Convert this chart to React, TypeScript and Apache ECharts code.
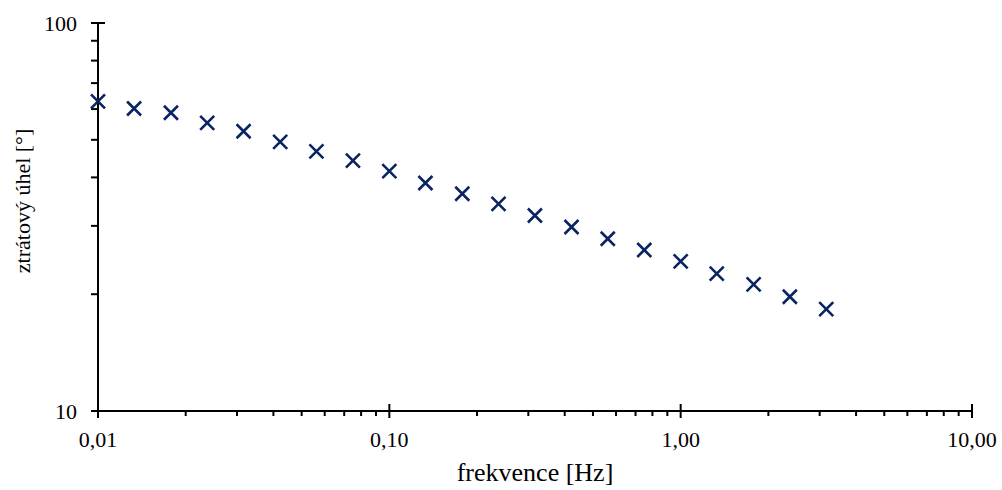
import React, { useEffect, useRef } from "react";
import * as echarts from "echarts";

const frequencies = [
  0.01, 0.0133, 0.0178, 0.0237, 0.0316, 0.0422, 0.0562, 0.075, 0.1, 0.133,
  0.178, 0.237, 0.316, 0.422, 0.562, 0.75, 1.0, 1.33, 1.78, 2.37, 3.16,
];
const lossAngle = [
  62.8, 60.2, 58.7, 55.3, 52.6, 49.4, 46.7, 44.2, 41.5, 38.7, 36.3, 34.2, 31.9,
  29.8, 27.8, 26.0, 24.3, 22.6, 21.2, 19.7, 18.3,
];
const xMajorTicks = [0.01, 0.1, 1, 10];
const xMinorTicks = [
  0.02, 0.03, 0.04, 0.05, 0.06, 0.07, 0.08, 0.09,
  0.2, 0.3, 0.4, 0.5, 0.6, 0.7, 0.8, 0.9,
  2, 3, 4, 5, 6, 7, 8, 9,
];
const yMajorTicks = [10, 100];
const yMinorTicks = [20, 30, 40, 50, 60, 70, 80, 90];

const xTitle = "frekvence [Hz]";
const yTitle = "ztrátový úhel [°]";

export default function App() {
  const ref = useRef<HTMLDivElement>(null);
  useEffect(() => {
    const chart = echarts.init(ref.current!, null, { renderer: "svg" });
    const font = "'Liberation Serif', 'Times New Roman', serif";
    // tick data: [x, y, kind] kind: 0 x-major, 1 x-minor, 2 y-major, 3 y-minor
    const tickData: number[][] = [];
    xMajorTicks.forEach((v) => tickData.push([v, 10, 0]));
    xMinorTicks.forEach((v) => tickData.push([v, 10, 1]));
    yMajorTicks.forEach((v) => tickData.push([0.01, v, 2]));
    yMinorTicks.forEach((v) => tickData.push([0.01, v, 3]));

    chart.setOption({
      animation: false,
      backgroundColor: "#ffffff",
      grid: { left: 98, right: 30, top: 23, bottom: 78, containLabel: false },
      graphic: [
        {
          type: "text",
          x: 22,
          y: 201,
          rotation: Math.PI / 2,
          style: {
            text: yTitle,
            fontFamily: font,
            fontSize: 22,
            fill: "#000",
            align: "center",
            verticalAlign: "middle",
          },
        },
      ],
      xAxis: {
        type: "log",
        logBase: 10,
        min: 0.01,
        max: 10,
        name: xTitle,
        nameLocation: "middle",
        nameGap: 48,
        nameTextStyle: { fontFamily: font, fontSize: 26, color: "#000" },
        axisLine: { lineStyle: { color: "#000", width: 2 } },
        axisTick: { show: false },
        splitLine: { show: false },
        minorTick: { show: false },
        axisLabel: {
          fontFamily: font,
          fontSize: 22,
          color: "#000",
          margin: 17,
          formatter: (v: number) => v.toFixed(2).replace(".", ","),
        },
      },
      yAxis: {
        type: "log",
        logBase: 10,
        min: 10,
        max: 100,
        axisLine: { lineStyle: { color: "#000", width: 2 } },
        axisTick: { show: false },
        splitLine: { show: false },
        minorTick: { show: false },
        axisLabel: {
          fontFamily: font,
          fontSize: 22,
          color: "#000",
          margin: 21,
          formatter: (v: number) => String(Math.round(v)),
        },
      },
      series: [
        {
          type: "custom",
          clip: false,
          silent: true,
          z: 1,
          data: tickData,
          encode: { x: 0, y: 1 },
          renderItem: (params: any, api: any) => {
            const kind = api.value(2);
            const p = api.coord([api.value(0), api.value(1)]);
            let shape;
            if (kind === 0) shape = { x1: p[0], y1: p[1] - 7, x2: p[0], y2: p[1] + 7 };
            else if (kind === 1) shape = { x1: p[0], y1: p[1], x2: p[0], y2: p[1] + 5 };
            else if (kind === 2) shape = { x1: p[0] - 7, y1: p[1], x2: p[0] + 7, y2: p[1] };
            else shape = { x1: p[0] - 7, y1: p[1], x2: p[0], y2: p[1] };
            return {
              type: "line",
              shape,
              style: { stroke: "#000", lineWidth: 2 },
            };
          },
        },
        {
          type: "scatter",
          z: 3,
          data: frequencies.map((f, i) => [f, lossAngle[i]]),
          symbol: "path://M0,0L10,10M10,0L0,10",
          symbolSize: 14,
          itemStyle: {
            color: "none",
            borderColor: "#0a2462",
            borderWidth: 2.6,
            opacity: 1,
          },
        },
      ],
    });
    return () => chart.dispose();
  }, []);
  return (
    <div
      ref={ref}
      style={{ position: "fixed", left: 0, top: 0, width: 1002, height: 490 }}
    />
  );
}
